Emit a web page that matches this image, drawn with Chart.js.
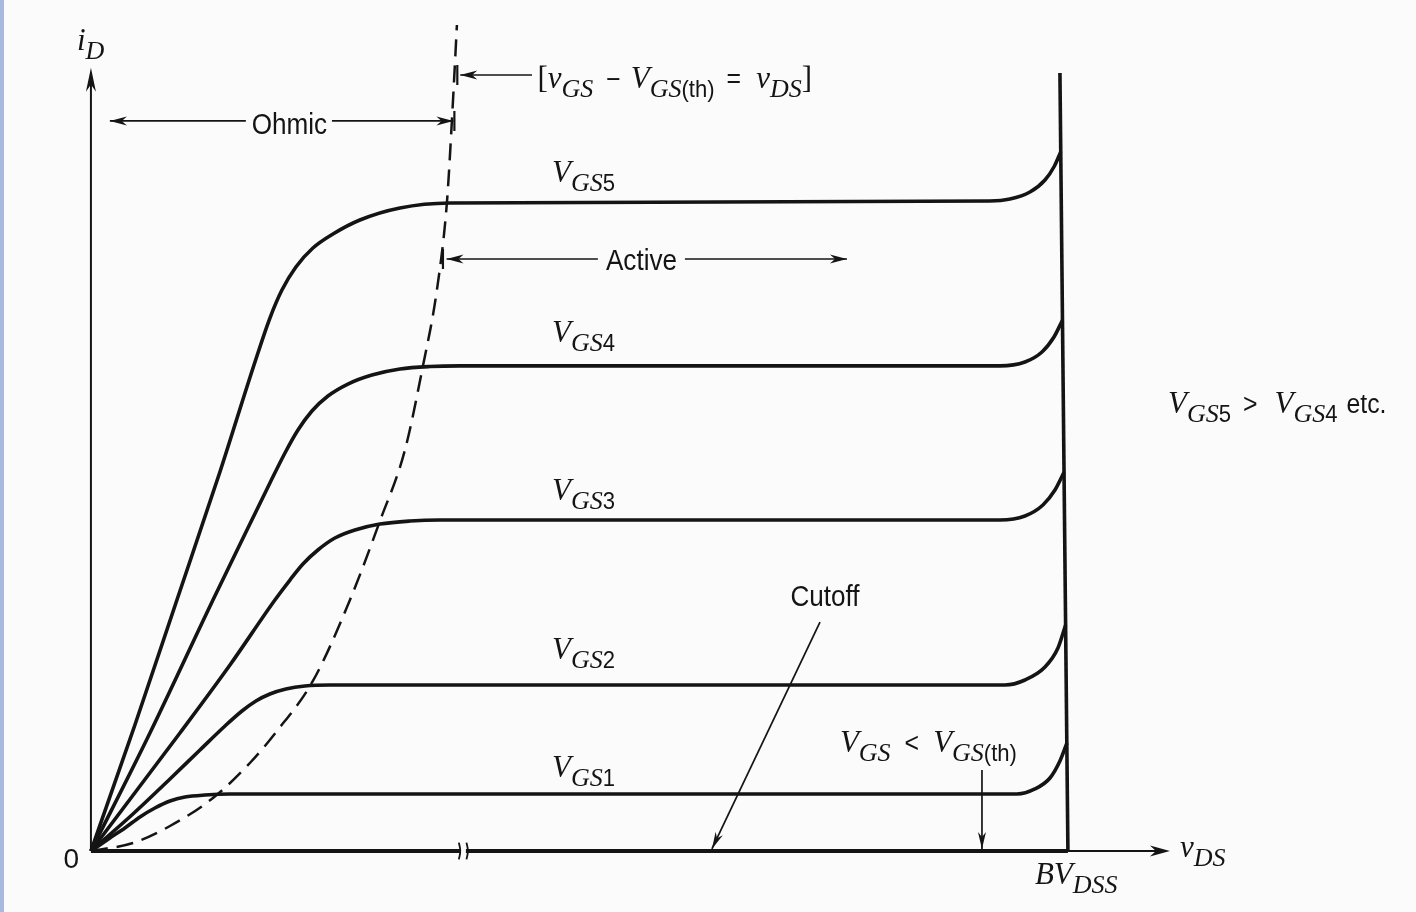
<!DOCTYPE html>
<html><head><meta charset="utf-8">
<script src="https://cdn.jsdelivr.net/npm/chart.js@4.4.1/dist/chart.umd.min.js"></script>
<style>html,body{margin:0;padding:0;background:#fbfbfb;overflow:hidden}canvas{display:block}</style>
</head><body>
<canvas id="c" width="1416" height="912"></canvas>
<script>
// ---- data: [vDS, iD] in arbitrary units (BV_DSS = 100) ----
const vgs1 = [[0,0],[1.94,1.86],[3.48,3.29],[5.02,4.86],[6.55,6.14],[8.09,7.14],[9.62,7.71],[11.67,8.0],[14.23,8.14],[94.78,8.14],[96.62,8.86],[98.16,10.43],[99.18,12.86],[99.9,15.43]];
const vgs2 = [[0,0],[4.30,5.29],[8.09,10.29],[11.16,14.43],[13.72,17.86],[15.46,20.0],[16.89,21.43],[18.32,22.43],[19.96,23.14],[21.9,23.57],[24.46,23.71],[93.55,23.71],[95.6,24.43],[97.65,26.29],[98.98,29.0],[99.76,32.29]];
const vgs3 = [[0,0],[9.11,16.86],[14.23,26.57],[18.83,35.86],[20.37,38.71],[21.7,41.0],[23.23,43.0],[24.97,44.71],[27.02,45.86],[29.58,46.71],[32.65,47.14],[35.72,47.29],[93.04,47.29],[95.6,47.86],[97.44,49.43],[98.67,51.57],[99.61,54.14]];
const vgs4 = [[0,0],[6.04,16.86],[12.49,35.86],[16.27,46.71],[18.32,52.57],[19.86,56.86],[21.19,60.14],[22.62,62.86],[24.26,65.0],[26.3,66.71],[28.76,68.0],[31.63,68.86],[34.7,69.21],[37.77,69.3],[93.04,69.3],[95.6,69.86],[97.34,71.29],[98.57,73.43],[99.45,75.86]];
const vgs5 = [[0,0],[4.5,18.0],[8.8,35.86],[13.2,54.14],[16.79,69.86],[18.32,76.14],[19.55,80.14],[20.98,83.43],[22.72,86.14],[24.77,88.14],[27.53,90.14],[31.63,91.86],[36.75,92.57],[92.02,92.86],[94.06,93.14],[96.11,94.14],[97.65,95.86],[98.62,97.86],[99.26,99.86]];
const boundary = [[0,0],[4.3,1.14],[8.09,3.57],[12.49,7.57],[16.27,12.57],[19.04,17.14],[22.72,24.29],[26.51,35.86],[29.58,47.14],[32.14,57.29],[33.98,69.29],[35.41,80.14],[36.44,92.71],[36.95,104.43],[37.46,118.0]];
const cutoffLine = [[0,0],[100,0]];
const breakdownLine = [[100,0],[99.18,111.14]];
const yAxisLine = [[0,0],[0,110.5]];
const xAxisExt = [[100,0],[109.5,0]];
const breakGap = [[37.87,0],[38.38,0]];
const breakLeft = [[37.66,1.2],[37.8,0],[37.66,-1.2]];
const breakRight = [[38.44,1.2],[38.58,0],[38.44,-1.2]];

// ---- labels (rich text segments: [text, style, extra gap after]) ----
const gateLabels = [
  [['V','I'],['GS','i'],['1','n']],
  [['V','I'],['GS','i'],['2','n']],
  [['V','I'],['GS','i'],['3','n']],
  [['V','I'],['GS','i'],['4','n']],
  [['V','I'],['GS','i'],['5','n']]
];
const gateLabelAt = [[47.19,10.57],[47.19,27.43],[47.19,50.14],[47.19,72.71],[47.19,95.57]];
const noteOrder = [['V','I'],['GS','i'],['5','n',12],['>','N',17],['V','I'],['GS','i'],['4','n',9],['etc.','N']];
const noteBoundary = [['[','R'],['v','I'],['GS','i',13],['\u2212','N',10],['V','I'],['GS','i'],['(th)','n',12],['=','N',15],['v','I'],['DS','i'],[']','R']];
const noteCut = [['V','I'],['GS','i',14],['<','N',14],['V','I'],['GS','i'],['(th)','n']];
const yTitle = [['i','I'],['D','i']];
const xTitle = [['v','I'],['DS','i']];
const bvTitle = [['BV','I'],['DSS','i']];
const regionWords = ['Ohmic','Active','Cutoff'];
const originLabel = '0';

const BG = '#fbfbfb', INK = '#141414';
const SERIF = '"Liberation Serif","DejaVu Serif",serif';
const SANS = '"Liberation Sans",Arial,sans-serif';
const STY = {
  I:{font:'italic 31px '+SERIF,dy:0,sx:1},
  i:{font:'italic 26px '+SERIF,dy:9,sx:1},
  n:{font:'24px '+SANS,dy:9,sx:0.92},
  N:{font:'27px '+SANS,dy:0,sx:0.92},
  R:{font:'31px '+SERIF,dy:0,sx:1},
  W:{font:'29px '+SANS,dy:0,sx:0.9}
};
function segW(ctx,seg){const s=STY[seg[1]];ctx.font=s.font;return ctx.measureText(seg[0]).width*s.sx+(seg[2]||0);}
function drawRich(ctx,x,y,segs,align){
  let total=0; for(const g of segs) total+=segW(ctx,g);
  let cx = align==='center' ? x-total/2 : x;
  for(const g of segs){
    const s=STY[g[1]]; const w=segW(ctx,g); ctx.font=s.font;
    ctx.save(); ctx.translate(cx,y+s.dy); ctx.scale(s.sx,1); ctx.fillText(g[0],0,0); ctx.restore();
    cx+=w;
  }
}
function head(ctx,x0,y0,x1,y1,len,hw){
  const a=Math.atan2(y1-y0,x1-x0),c=Math.cos(a),s=Math.sin(a);
  ctx.beginPath();
  ctx.moveTo(x1,y1);
  ctx.lineTo(x1-len*c-hw*s, y1-len*s+hw*c);
  ctx.lineTo(x1-len*0.7*c, y1-len*0.7*s);
  ctx.lineTo(x1-len*c+hw*s, y1-len*s-hw*c);
  ctx.closePath(); ctx.fill();
}

// annotation geometry (data units)
const arrowLines = [
  {a:[15.86,104.29], b:[1.94,104.29], len:17, hw:4.5},
  {a:[24.67,104.29], b:[37.1,104.29], len:17, hw:4.5},
  {a:[51.89,84.57], b:[36.4,84.57], len:17, hw:4.5},
  {a:[60.8,84.57], b:[77.38,84.57], len:17, hw:4.5},
  {a:[45.14,110.86], b:[37.8,110.86], len:17, hw:4.5},
  {a:[74.62,32.71], b:[63.56,0.3], len:17, hw:4},
  {a:[91.2,11.57], b:[91.2,0.3], len:17, hw:4}
];
const ticks = [[37.2,104.29],[37.5,110.86],[36.03,84.57]];
const axisHeads = [{a:[0,100], b:[0,111.9], len:24, hw:5}, {a:[100,0], b:[110.44,0], len:20, hw:5.5}];

const annot = {
  id:'annot',
  beforeDraw(chart){
    const ctx=chart.ctx; ctx.save();
    ctx.fillStyle=BG; ctx.fillRect(0,0,chart.width,chart.height);
    ctx.fillStyle='#a7b9de'; ctx.fillRect(0,0,4,chart.height);
    ctx.restore();
  },
  afterDraw(chart){
    const ctx=chart.ctx, X=chart.scales.x, Y=chart.scales.y;
    const px=v=>X.getPixelForValue(v), py=v=>Y.getPixelForValue(v);
    ctx.save();
    ctx.fillStyle=INK; ctx.strokeStyle=INK; ctx.textBaseline='alphabetic'; ctx.textAlign='left';
    ctx.lineWidth=1.7;
    for(const r of arrowLines){
      const x0=px(r.a[0]),y0=py(r.a[1]),x1=px(r.b[0]),y1=py(r.b[1]);
      ctx.beginPath(); ctx.moveTo(x0,y0); ctx.lineTo(x1,y1); ctx.stroke();
      head(ctx,x0,y0,x1,y1,r.len,r.hw);
    }
    ctx.lineWidth=2.2;
    for(const t of ticks){ctx.beginPath();ctx.moveTo(px(t[0]),py(t[1])-10);ctx.lineTo(px(t[0]),py(t[1])+10);ctx.stroke();}
    for(const r of axisHeads){head(ctx,px(r.a[0]),py(r.a[1]),px(r.b[0]),py(r.b[1]),r.len,r.hw);}
    gateLabels.forEach((s,i)=>drawRich(ctx,px(gateLabelAt[i][0]),py(gateLabelAt[i][1]),s));
    drawRich(ctx,px(110.24),py(62.57),noteOrder);
    drawRich(ctx,px(45.7),py(109.0),noteBoundary);
    drawRich(ctx,px(76.66),py(14.14),noteCut);
    drawRich(ctx,px(-1.43),py(114.4),yTitle);
    drawRich(ctx,px(111.46),py(-0.86),xTitle);
    drawRich(ctx,px(96.62),py(-4.71),bvTitle);
    drawRich(ctx,px(20.32),py(102.43),[[regionWords[0],'W']],'center');
    drawRich(ctx,px(56.35),py(83.0),[[regionWords[1],'W']],'center');
    drawRich(ctx,px(75.13),py(35.0),[[regionWords[2],'W']],'center');
    ctx.font='28px '+SANS; ctx.textAlign='center';
    ctx.fillText(originLabel,px(-2.0),py(-2.4));
    ctx.restore();
  }
};

const P = a => a.map(([x,y])=>({x,y}));
const base = {showLine:true,pointRadius:0,pointHoverRadius:0,fill:false,borderColor:INK,borderWidth:3.6,cubicInterpolationMode:'monotone',clip:false};
new Chart(document.getElementById('c'),{
  type:'scatter',
  data:{datasets:[
    Object.assign({},base,{data:P(breakLeft),borderWidth:1.8,order:-2,cubicInterpolationMode:'default',tension:0.5}),
    Object.assign({},base,{data:P(breakRight),borderWidth:1.8,order:-2,cubicInterpolationMode:'default',tension:0.5}),
    Object.assign({},base,{data:P(breakGap),borderColor:BG,borderWidth:10,order:-1}),
    Object.assign({},base,{data:P(vgs1)}),
    Object.assign({},base,{data:P(vgs2)}),
    Object.assign({},base,{data:P(vgs3)}),
    Object.assign({},base,{data:P(vgs4)}),
    Object.assign({},base,{data:P(vgs5)}),
    Object.assign({},base,{data:P(boundary),borderWidth:2.5,borderDash:[17,9]}),
    Object.assign({},base,{data:P(yAxisLine),borderWidth:2}),
    Object.assign({},base,{data:P(cutoffLine),borderWidth:4}),
    Object.assign({},base,{data:P(xAxisExt),borderWidth:2}),
    Object.assign({},base,{data:P(breakdownLine),borderWidth:3.6,cubicInterpolationMode:'default',tension:0})
  ]},
  options:{
    responsive:false,animation:false,devicePixelRatio:1,
    layout:{padding:{left:3,right:6.1,top:11,bottom:5}},
    plugins:{legend:{display:false},tooltip:{enabled:false}},
    events:[],
    scales:{
      x:{type:'linear',display:false,min:-9,max:135},
      y:{type:'linear',display:false,min:-8,max:120}
    }
  },
  plugins:[annot]
});
</script>
</body></html>
